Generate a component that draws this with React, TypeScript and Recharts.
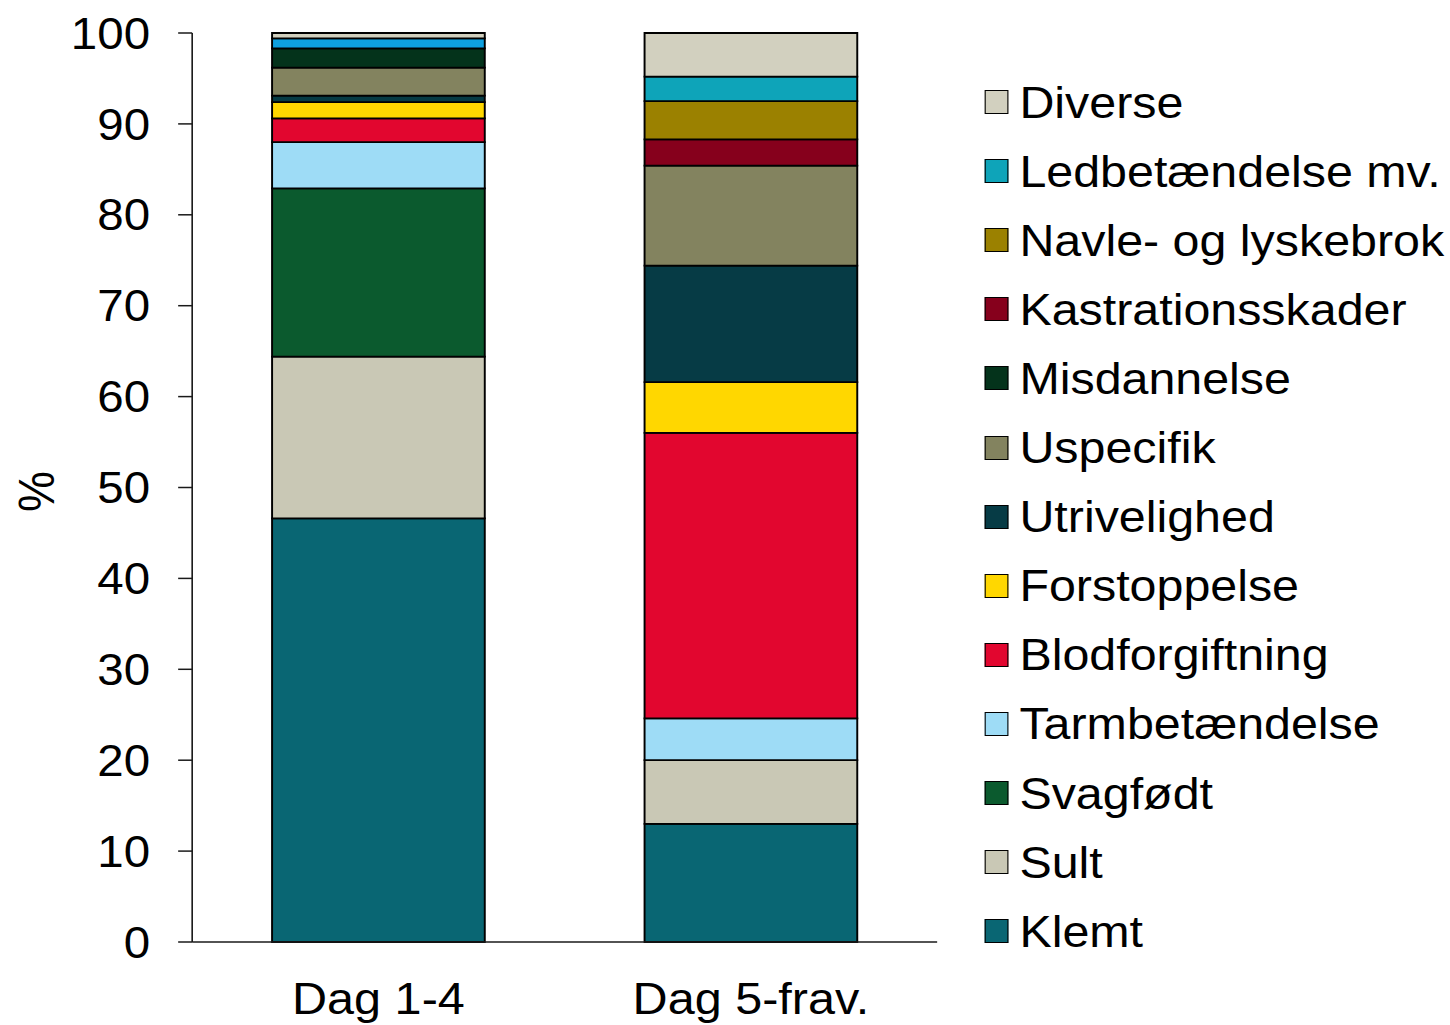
import React from "react";
import { Bar, BarChart, Cell, Legend, XAxis, YAxis } from "recharts";

const categories = ["Dag 1-4", "Dag 5-frav."];

// share of deaths (%) per cause, [Dag 1-4, Dag 5-frav.]
const klemt = [46.6, 13.0];
const sult = [17.8, 7.0];
const svagfoedt = [18.5, 0];
const tarmbetaendelse = [5.1, 4.6];
const blodforgiftning = [2.6, 31.4];
const forstoppelse = [1.8, 5.6];
const utrivelighed = [0.7, 12.8];
const uspecifik = [3.1, 11.0];
const misdannelse = [2.1, 0];
const kastrationsskader = [0, 2.9];
const navlebrok = [0, 4.2];
const ledbetaendelse = [1.1, 2.7];
const diverse = [0.6, 4.8];

const yTicks = [0, 10, 20, 30, 40, 50, 60, 70, 80, 90, 100];

const series = [
  { key: "klemt", name: "Klemt", values: klemt, color: "#096673" },
  { key: "sult", name: "Sult", values: sult, color: "#c9c8b5" },
  { key: "svagfoedt", name: "Svagfødt", values: svagfoedt, color: "#0b5a2e" },
  { key: "tarm", name: "Tarmbetændelse", values: tarmbetaendelse, color: "#9edcf6" },
  { key: "blod", name: "Blodforgiftning", values: blodforgiftning, color: "#e2062f" },
  { key: "forst", name: "Forstoppelse", values: forstoppelse, color: "#ffd700" },
  { key: "utriv", name: "Utrivelighed", values: utrivelighed, color: "#063b45" },
  { key: "uspec", name: "Uspecifik", values: uspecifik, color: "#83835f" },
  { key: "misd", name: "Misdannelse", values: misdannelse, color: "#04331b" },
  { key: "kastr", name: "Kastrationsskader", values: kastrationsskader, color: "#86001c" },
  { key: "navle", name: "Navle- og lyskebrok", values: navlebrok, color: "#9b8100" },
  { key: "led", name: "Ledbetændelse mv.", values: ledbetaendelse, color: "#0ea4b9" },
  { key: "diverse", name: "Diverse", values: diverse, color: "#d2d0bf" },
];

// the first bar draws this cause in a brighter blue than the legend
const barOverrides: Record<string, string[]> = {
  led: ["#0ea0e0", "#0ea4b9"],
};

const data = categories.map((c, i) => {
  const row: Record<string, string | number> = { name: c };
  series.forEach((s) => {
    row[s.key] = s.values[i];
  });
  return row;
});

const font = "'Liberation Sans', Arial, sans-serif";
const W = 1343;
const H = 1025;
const STRETCH = 1450 / W;

function LegendBox() {
  return (
    <div style={{ fontFamily: font, fontSize: 44.8, color: "#000" }}>
      {[...series].reverse().map((s) => (
        <div
          key={s.key}
          style={{ display: "flex", alignItems: "center", height: 69.1, whiteSpace: "nowrap" }}
        >
          <div
            style={{
              width: 22.2,
              height: 24,
              boxSizing: "border-box",
              border: "1.5px solid #000",
              background: s.color,
              marginRight: 10,
              flex: "none",
            }}
          />
          <span style={{ lineHeight: 1 }}>{s.name}</span>
        </div>
      ))}
    </div>
  );
}

export default function App() {
  return (
    <div
      style={{
        position: "absolute",
        left: 0,
        top: 0,
        width: W,
        height: H,
        background: "#fff",
        transform: `scaleX(${STRETCH})`,
        transformOrigin: "0 0",
      }}
    >
      <BarChart
        width={W}
        height={H}
        data={data}
        margin={{ top: 33, right: W - 868, left: 0, bottom: 0 }}
      >
        <XAxis
          dataKey="name"
          height={83}
          stroke="#1a1a1a"
          strokeWidth={1.5}
          tickLine={false}
          tickSize={0}
          tickMargin={40}
          tick={{ fill: "#000", fontSize: 45, fontFamily: font }}
        />
        <YAxis
          width={178}
          domain={[0, 100]}
          ticks={yTicks}
          interval={0}
          stroke="#1a1a1a"
          strokeWidth={1.5}
          tickSize={13}
          tickMargin={26}
          tick={{ fill: "#000", fontSize: 44, fontFamily: font }}
          label={({ viewBox }: any) => (
            <text
              x={viewBox.x + 34}
              y={viewBox.y + viewBox.height / 2 + 4}
              transform={`rotate(-90 ${viewBox.x + 34} ${viewBox.y + viewBox.height / 2 + 4})`}
              textAnchor="middle"
              dominantBaseline="central"
              fontSize={46}
              fontFamily={font}
              fill="#000"
            >
              %
            </text>
          )}
        />
        <Legend
          layout="vertical"
          align="center"
          verticalAlign="middle"
          content={() => <LegendBox />}
          wrapperStyle={{ left: 912, top: 67.5, width: 425, height: 830 }}
        />
        {series.map((s) => (
          <Bar
            key={s.key}
            dataKey={s.key}
            name={s.name}
            stackId="a"
            fill={s.color}
            stroke="#000"
            strokeWidth={1.8}
            barSize={197}
            isAnimationActive={false}
          >
            {barOverrides[s.key]
              ? data.map((d, i) => <Cell key={String(d.name)} fill={barOverrides[s.key][i]} />)
              : null}
          </Bar>
        ))}
      </BarChart>
    </div>
  );
}
